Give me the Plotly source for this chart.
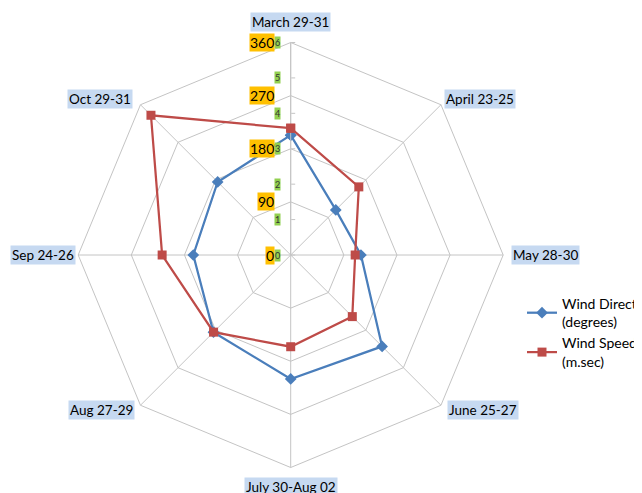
import math
import plotly.graph_objects as go

# periods around the radar, clockwise from the top
periods = ["March 29-31", "April 23-25", "May 28-30", "June 25-27",
           "July 30-Aug 02", "Aug 27-29", "Sep 24-26", "Oct 29-31"]
wind_direction = [203, 108, 119, 219, 210, 185, 165, 175]     # degrees
wind_speed = [3.58, 2.72, 1.82, 2.46, 2.59, 3.08, 3.63, 5.58]  # m/sec

direction_ticks = [0, 90, 180, 270, 360]
speed_ticks = [0, 1, 2, 3, 4, 5, 6]

W, H = 642, 493
OFF = 8                           # page body margin pushes the figure by 8px
CX, CY, R = 290.7, 255.0, 212.5   # radar centre and radius, screen pixels
GRID = "#c4c4c4"
FONT = "Lato"


def paper(px, py):
    # screen pixel -> paper fraction
    return (px - OFF) / W, 1 - (py - OFF) / H


def close(values):
    return list(values) + [values[0]]


x0, y1 = paper(CX - R, CY - R)
x1, y0 = paper(CX + R, CY + R)

fig = go.Figure()
fig.add_trace(go.Scatterpolar(
    r=close(wind_direction), theta=close(periods), mode="lines+markers",
    name="Wind Direction<br>(degrees)", subplot="polar",
    line=dict(color="#4a7ebb", width=2.25),
    marker=dict(symbol="diamond", size=9, color="#4a7ebb"),
))
fig.add_trace(go.Scatterpolar(
    r=close(wind_speed), theta=close(periods), mode="lines+markers",
    name="Wind Speed<br>(m.sec)", subplot="polar2",
    line=dict(color="#be4b48", width=2.25),
    marker=dict(symbol="square", size=9, color="#be4b48"),
))

angular = dict(direction="clockwise", rotation=90, categoryorder="array",
               categoryarray=periods, showticklabels=False, ticks="")

lx, ly = paper(522, 288)

fig.update_layout(
    width=W, height=H,
    # legend runs off the right edge like the original; don't let it squeeze the plot
    margin=dict(l=0, r=0, t=0, b=0, autoexpand=False),
    paper_bgcolor="white",
    font=dict(family=FONT, size=14, color="black"),
    polar=dict(
        domain=dict(x=[x0, x1], y=[y0, y1]), gridshape="linear", bgcolor="white",
        radialaxis=dict(range=[0, 360], tickvals=direction_ticks, angle=90,
                        showticklabels=False, ticks="", showline=True,
                        linecolor=GRID, gridcolor=GRID, gridwidth=1),
        angularaxis=dict(angular, showgrid=True, gridcolor=GRID,
                         showline=True, linecolor=GRID),
    ),
    polar2=dict(
        domain=dict(x=[x0, x1], y=[y0, y1]), gridshape="linear",
        bgcolor="rgba(0,0,0,0)",
        radialaxis=dict(range=[0, 6], tickvals=speed_ticks, angle=90,
                        showticklabels=False, showgrid=False, showline=False,
                        ticks="outside", ticklen=4, tickcolor=GRID),
        angularaxis=dict(angular, showgrid=False, showline=False),
    ),
    legend=dict(x=lx, y=ly, xanchor="left", yanchor="top",
                bgcolor="rgba(0,0,0,0)", font=dict(size=14)),
)

annotations = []

# category labels with light-blue boxes
label_offsets = [  # (dx, dy, xanchor)
    (0, -21, "center"), (3, -6, "left"), (8, 0, "left"), (6, 5, "left"),
    (0, 19, "center"), (-5, 5, "right"), (-68, 0, "left"), (-7, -6, "right"),
]
for k, (name, (dx, dy, xa)) in enumerate(zip(periods, label_offsets)):
    ang = math.radians(90 - 45 * k)
    x, y = paper(CX + R * math.cos(ang) + dx, CY - R * math.sin(ang) + dy)
    annotations.append(dict(x=x, y=y, xref="paper", yref="paper", text=name,
                            showarrow=False, xanchor=xa, yanchor="middle",
                            bgcolor="#c6d9f1", borderpad=1,
                            font=dict(size=13.5)))

# secondary (wind speed) tick labels, green
for v in speed_ticks:
    x, y = paper(281, CY - R * v / 6)
    annotations.append(dict(x=x, y=y, xref="paper", yref="paper", text=str(v),
                            showarrow=False, xanchor="right", yanchor="middle",
                            bgcolor="#92d050", borderpad=0,
                            font=dict(size=9, color="#333")))

# primary (wind direction) tick labels, orange
for v in direction_ticks:
    x, y = paper(275, CY - R * v / 360)
    annotations.append(dict(x=x, y=y, xref="paper", yref="paper", text=str(v),
                            showarrow=False, xanchor="right", yanchor="middle",
                            bgcolor="#ffc000", borderpad=0,
                            font=dict(size=14)))

fig.update_layout(annotations=annotations)

fig.write_html("out.html")
